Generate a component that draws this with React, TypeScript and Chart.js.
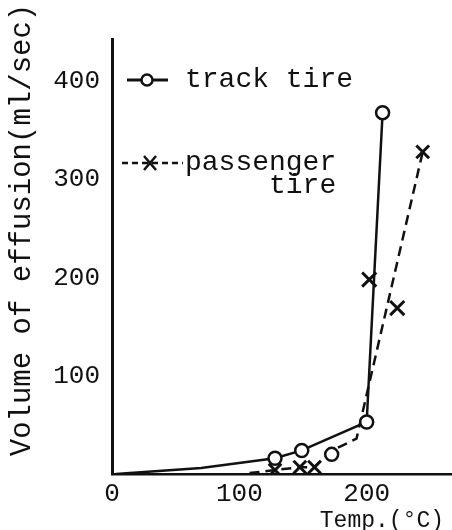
import React, { useEffect, useRef } from "react";
import { Chart, registerables } from "chart.js";

Chart.register(...registerables);

// ---- data ----
const trackLineX = [3, 70, 128, 149, 200, 212.5];
const trackLineY = [0, 6, 16, 24, 53, 368];
const trackLineMarker = [0, 0, 1, 1, 1, 1];
const trackExtraX = [172.5];
const trackExtraY = [20];

const passengerLineX = [108, 128, 147.5, 159, 173, 192, 244];
const passengerLineY = [1, 4, 7, 7, 24, 36, 328];
const passengerLineMarker = [0, 1, 1, 1, 0, 0, 1];
const passengerExtraX = [202, 224];
const passengerExtraY = [198, 169];

const xTicks = [0, 100, 200];
const yTicks = [100, 200, 300, 400];
const seriesNames = ["track tire", "passenger", "tire"];
const yTitle = "Volume of effusion(ml/sec)";
const xTitle = "Temp.(°C)";

const INK = "#111111";
const MONO = "'Liberation Mono', 'DejaVu Sans Mono', monospace";

function pts(xs: number[], ys: number[]) {
  return xs.map((x, i) => ({ x, y: ys[i] }));
}

const overlayPlugin = {
  id: "overlay",
  afterDraw(chart: any) {
    const ctx = chart.ctx as CanvasRenderingContext2D;
    const area = chart.chartArea;
    ctx.save();
    ctx.fillStyle = INK;
    ctx.strokeStyle = INK;

    // y-axis title
    ctx.save();
    ctx.font = `29px ${MONO}`;
    ctx.translate(22, area.top + 191);
    ctx.rotate(-Math.PI / 2);
    ctx.textAlign = "center";
    ctx.textBaseline = "middle";
    ctx.fillText(yTitle, 0, 0);
    ctx.restore();

    // x-axis title
    ctx.font = `23px ${MONO}`;
    ctx.textAlign = "right";
    ctx.textBaseline = "alphabetic";
    ctx.fillText(xTitle, area.right - 8, chart.height - 3);

    // legend
    const lx = area.left;
    const y1 = area.top + 41;
    const y2 = area.top + 124;
    const y3 = area.top + 147;
    ctx.lineWidth = 3;
    ctx.setLineDash([]);
    ctx.beginPath();
    ctx.moveTo(lx + 15, y1);
    ctx.lineTo(lx + 56, y1);
    ctx.stroke();
    ctx.beginPath();
    ctx.arc(lx + 35, y1, 5.5, 0, Math.PI * 2);
    ctx.fillStyle = "#ffffff";
    ctx.fill();
    ctx.lineWidth = 2.5;
    ctx.stroke();

    ctx.lineWidth = 2.5;
    ctx.setLineDash([6, 4]);
    ctx.beginPath();
    ctx.moveTo(lx + 10, y2);
    ctx.lineTo(lx + 71, y2);
    ctx.stroke();
    ctx.setLineDash([]);
    ctx.lineWidth = 2.5;
    ctx.beginPath();
    ctx.moveTo(lx + 32, y2 - 7);
    ctx.lineTo(lx + 44, y2 + 7);
    ctx.moveTo(lx + 44, y2 - 7);
    ctx.lineTo(lx + 32, y2 + 7);
    ctx.stroke();

    ctx.fillStyle = INK;
    ctx.font = `28px ${MONO}`;
    ctx.textAlign = "left";
    ctx.textBaseline = "middle";
    ctx.fillText(seriesNames[0], lx + 73, y1);
    ctx.fillText(seriesNames[1], lx + 73, y2);
    const w = ctx.measureText(seriesNames[1]).width;
    ctx.textAlign = "right";
    ctx.fillText(seriesNames[2], lx + 73 + w, y3);
    ctx.restore();
  },
};

export default function App() {
  const ref = useRef<HTMLCanvasElement | null>(null);

  useEffect(() => {
    if (!ref.current) return;
    const chart = new Chart(ref.current, {
      type: "scatter",
      data: {
        datasets: [
          {
            label: "track tire",
            data: pts(trackLineX, trackLineY),
            showLine: true,
            borderColor: INK,
            backgroundColor: "#ffffff",
            borderWidth: 2.5,
            pointRadius: trackLineMarker.map((m) => (m ? 6.5 : 0)),
            pointBorderWidth: 2.5,
            pointBackgroundColor: "#ffffff",
            pointBorderColor: INK,
            pointStyle: "circle",
            tension: 0,
          },
          {
            label: "track tire (extra)",
            data: pts(trackExtraX, trackExtraY),
            showLine: false,
            pointRadius: 6.5,
            pointBorderWidth: 2.5,
            pointBackgroundColor: "#ffffff",
            pointBorderColor: INK,
            pointStyle: "circle",
          },
          {
            label: "passenger tire",
            data: pts(passengerLineX, passengerLineY),
            showLine: true,
            borderColor: INK,
            borderWidth: 2.5,
            borderDash: [10, 6],
            pointRadius: passengerLineMarker.map((m) => (m ? 9 : 0)),
            pointBorderWidth: 3,
            pointBorderColor: INK,
            pointBackgroundColor: INK,
            pointStyle: "crossRot",
            tension: 0,
          },
          {
            label: "passenger tire (extra)",
            data: pts(passengerExtraX, passengerExtraY),
            showLine: false,
            pointRadius: 10,
            pointBorderWidth: 3,
            pointBorderColor: INK,
            pointStyle: "crossRot",
          },
        ],
      },
      options: {
        responsive: false,
        animation: false,
        layout: { autoPadding: false, padding: { top: 39, right: 0, left: 0, bottom: 0 } },
        plugins: {
          legend: { display: false },
          tooltip: { enabled: false },
          title: { display: false },
        },
        scales: {
          x: {
            type: "linear",
            min: 0,
            max: 267,
            grid: { display: false, drawTicks: false },
            border: { display: true, color: INK, width: 2.5 },
            afterFit: (s: any) => {
              s.height = 56;
              s.paddingLeft = 0;
              s.paddingRight = 0;
            },
            afterBuildTicks: (s: any) => {
              s.ticks = xTicks.map((v) => ({ value: v }));
            },
            ticks: {
              color: INK,
              padding: 5,
              maxRotation: 0,
              font: { family: MONO, size: 26 },
              callback: (v: any) => String(v),
            },
          },
          y: {
            type: "linear",
            min: 0,
            max: 443,
            grid: { display: false, drawTicks: false },
            border: { display: true, color: INK, width: 3 },
            afterFit: (s: any) => {
              s.width = 112;
              s.paddingTop = 0;
              s.paddingBottom = 0;
            },
            afterBuildTicks: (s: any) => {
              s.ticks = yTicks.map((v) => ({ value: v }));
            },
            ticks: {
              color: INK,
              padding: 12,
              font: { family: MONO, size: 26 },
              callback: (v: any) => String(v),
            },
          },
        },
      },
      plugins: [overlayPlugin],
    } as any);
    return () => chart.destroy();
  }, []);

  return (
    <div style={{ position: "absolute", left: 0, top: 0, width: 452, height: 530, background: "#fff" }}>
      <canvas ref={ref} width={452} height={530} style={{ display: "block" }} />
    </div>
  );
}
